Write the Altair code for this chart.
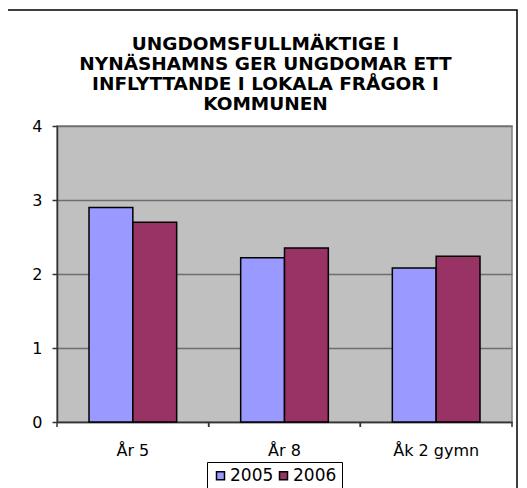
import altair as alt
import pandas as pd

categories = ["År 5", "År 8", "Åk 2 gymn"]
years = ["2005", "2006"]
values_2005 = [2.9, 2.22, 2.08]
values_2006 = [2.7, 2.35, 2.24]
colors = ["#9999FF", "#993366"]
y_ticks = [0, 1, 2, 3, 4]
title_lines = [
    "UNGDOMSFULLMÄKTIGE I",
    "NYNÄSHAMNS GER UNGDOMAR ETT",
    "INFLYTTANDE I LOKALA FRÅGOR I",
    "KOMMUNEN",
]

rows = []
for i, c in enumerate(categories):
    rows.append({"cat": c, "year": years[0], "value": values_2005[i]})
    rows.append({"cat": c, "year": years[1], "value": values_2006[i]})
df = pd.DataFrame(rows)
cat_df = pd.DataFrame({"cat": categories})
frame_df = pd.DataFrame({"k": [0]})

W, H = 455, 296
FONT = "DejaVu Sans"
AXIS_COLOR = "#333333"

x_scale = alt.Scale(domain=categories, paddingInner=0, paddingOuter=0)
x_axis = alt.Axis(
    title=None, labelFont=FONT, labelFontSize=16, labelColor="black",
    labelPadding=20, tickSize=0, ticks=False, domainColor=AXIS_COLOR,
    domainWidth=1.5, labelAngle=0,
)
y_axis = alt.Axis(
    title=None, values=y_ticks, format="d", grid=True, gridColor="#6E6E6E",
    gridWidth=1.5, domainColor=AXIS_COLOR, domainWidth=1.5,
    tickColor=AXIS_COLOR, tickWidth=1.5, tickSize=5,
    labelFont=FONT, labelFontSize=16, labelColor="black", labelPadding=10,
)

bars = alt.Chart(df).mark_bar(stroke="black", strokeWidth=1.5).encode(
    x=alt.X("cat:N", scale=x_scale, axis=x_axis, sort=categories),
    xOffset=alt.XOffset("year:N", scale=alt.Scale(domain=years, paddingInner=0, paddingOuter=0.73)),
    y=alt.Y("value:Q", scale=alt.Scale(domain=[0, 4], nice=False), axis=y_axis),
    color=alt.Color(
        "year:N",
        scale=alt.Scale(domain=years, range=colors),
        legend=alt.Legend(
            title=None, orient="none", legendX=150, legendY=336,
            direction="horizontal", strokeColor="black", fillColor="white",
            padding=5, symbolType="square", symbolSize=64,
            symbolStrokeColor="black", symbolStrokeWidth=1.5, symbolOpacity=1,
            labelFont=FONT, labelFontSize=17, labelColor="black",
            labelOffset=1, columnPadding=1,
        ),
    ),
)

tick_start = alt.Chart(cat_df).mark_rule(color=AXIS_COLOR, strokeWidth=1.5).encode(
    x=alt.X("cat:N", scale=x_scale, axis=x_axis, sort=categories, bandPosition=0),
    y=alt.value(H), y2=alt.value(H + 5),
)
tick_end = alt.Chart(cat_df).mark_rule(color=AXIS_COLOR, strokeWidth=1.5).encode(
    x=alt.X("cat:N", scale=x_scale, axis=x_axis, sort=categories, bandPosition=1),
    y=alt.value(H), y2=alt.value(H + 5),
)

border = alt.Chart(frame_df).mark_rect(filled=False, stroke="black", strokeWidth=1.5).encode(
    x=alt.value(-50), x2=alt.value(460), y=alt.value(-116), y2=alt.value(420),
)

chart = alt.layer(border, bars, tick_start, tick_end).properties(
    width=W, height=H,
    autosize=alt.AutoSizeParams(type="none"),
    padding={"left": 49, "top": 118, "right": 7, "bottom": 66},
    title=alt.TitleParams(
        text=title_lines, font=FONT, fontSize=18.5, fontWeight="bold",
        color="black", anchor="middle", frame="group", lineHeight=20,
        offset=-104, dx=-19,
    ),
).configure_view(fill="#C0C0C0", stroke="#808080", strokeWidth=1.5)

chart.save("out.html", embed_options={"renderer": "svg", "actions": False})
